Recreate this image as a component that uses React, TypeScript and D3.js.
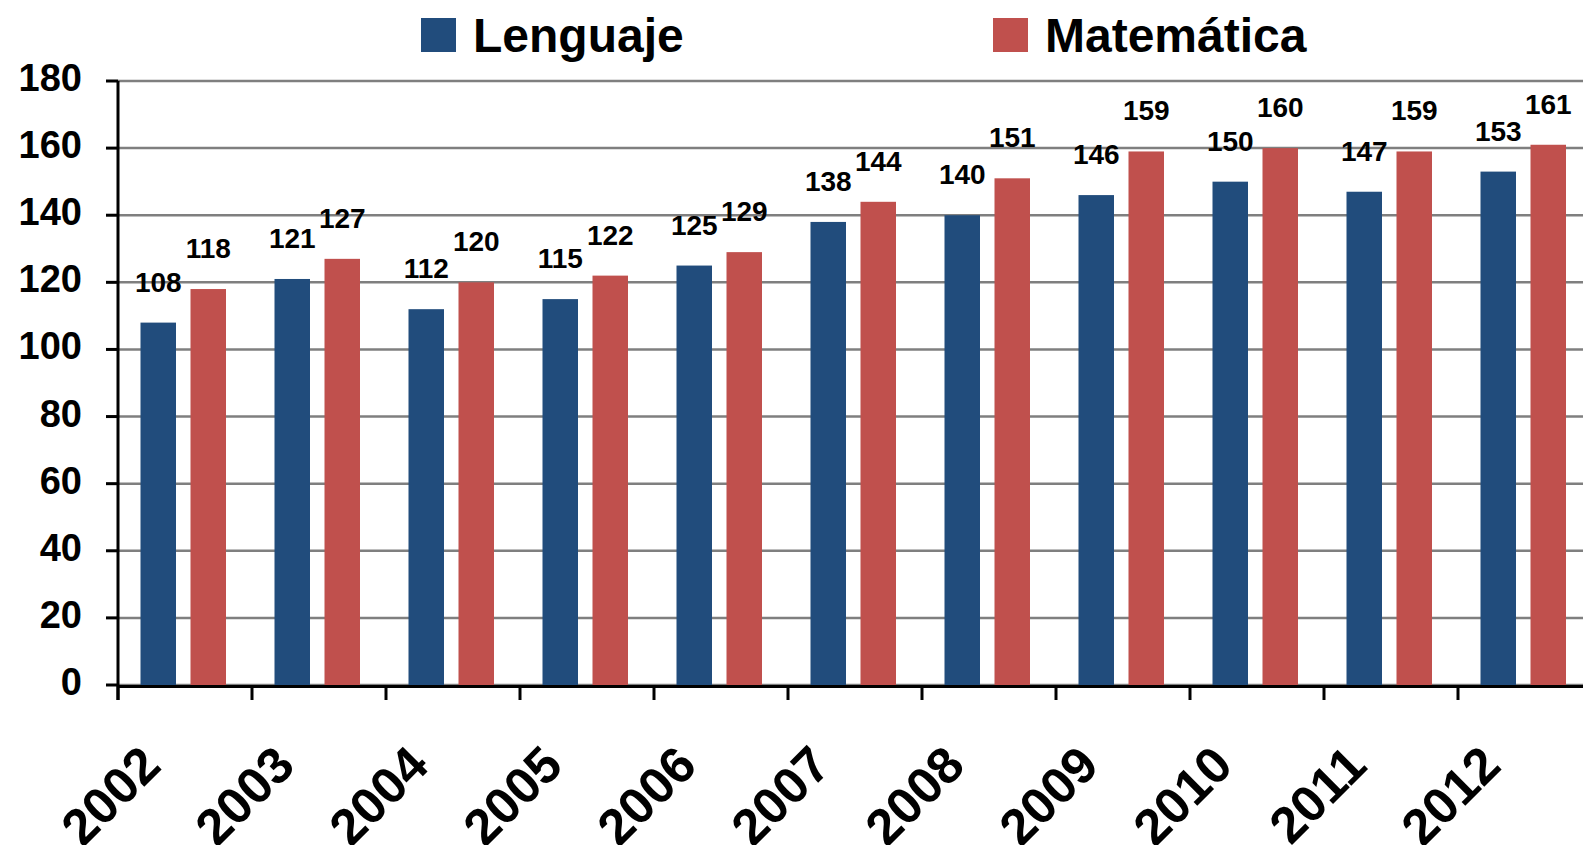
import React from "react";
import * as d3 from "d3";

const years = ["2002", "2003", "2004", "2005", "2006", "2007", "2008", "2009", "2010", "2011", "2012"];
const lenguaje = [108, 121, 112, 115, 125, 138, 140, 146, 150, 147, 153];
const matematica = [118, 127, 120, 122, 129, 144, 151, 159, 160, 159, 161];
const yTicks = [0, 20, 40, 60, 80, 100, 120, 140, 160, 180];
const seriesNames = ["Lenguaje", "Matemática"];
const colors = ["#214C7C", "#C0504D"];

const W = 1583;
const H = 845;
const FONT = "'Liberation Sans', Arial, sans-serif";

export default function App() {
  const left = 118;
  const band = 134;
  const x = d3
    .scaleBand<string>()
    .domain(years)
    .range([left, left + band * years.length])
    .paddingInner(0)
    .paddingOuter(0);
  const y = d3.scaleLinear().domain([0, 180]).range([685, 81]);
  const bw = x.bandwidth();
  const barW = 35.5;
  const offs = [22.5 / 134 * bw, 72.5 / 134 * bw];
  const series = [lenguaje, matematica];
  const xEnd = left + band * years.length;

  return (
    <svg
      width={W}
      height={H}
      style={{ position: "absolute", left: 0, top: 0, background: "#fff" }}
      fontFamily={FONT}
      fontWeight="bold"
    >
      {yTicks.map((t) => (
        <line key={"g" + t} x1={left} x2={xEnd} y1={y(t)} y2={y(t)} stroke="#7f7f7f" strokeWidth={2.5} />
      ))}
      {series.map((vals, si) =>
        vals.map((v, i) => (
          <rect
            key={si + "-" + i}
            x={(x(years[i]) as number) + offs[si]}
            y={y(v)}
            width={barW}
            height={y(0) - y(v)}
            fill={colors[si]}
          />
        ))
      )}
      {series.map((vals, si) =>
        vals.map((v, i) => (
          <text
            key={"l" + si + "-" + i}
            x={(x(years[i]) as number) + offs[si] + barW / 2}
            y={y(v) - 31}
            textAnchor="middle"
            fontSize={28}
            fill="#000"
          >
            {v}
          </text>
        ))
      )}
      <line x1={left} x2={left} y1={y(180)} y2={y(0) + 15} stroke="#000" strokeWidth={3} />
      {yTicks.map((t) => (
        <g key={"yt" + t}>
          <line x1={left - 12} x2={left} y1={y(t)} y2={y(t)} stroke="#000" strokeWidth={3} />
          <text x={82} y={y(t) + 10} textAnchor="end" fontSize={38} fill="#000">
            {t}
          </text>
        </g>
      ))}
      <line x1={left} x2={xEnd} y1={y(0) + 1.5} y2={y(0) + 1.5} stroke="#000" strokeWidth={3} />
      {years.map((yr) => (
        <line
          key={"xt" + yr}
          x1={x(yr) as number}
          x2={x(yr) as number}
          y1={y(0)}
          y2={y(0) + 15}
          stroke="#000"
          strokeWidth={3}
        />
      ))}
      {years.map((yr) => {
        const cx = (x(yr) as number) + bw / 2 - 22;
        const cy = 768;
        return (
          <text
            key={"xl" + yr}
            x={cx}
            y={cy}
            textAnchor="end"
            fontSize={51}
            fill="#000"
            transform={`rotate(-45 ${cx} ${cy})`}
          >
            {yr}
          </text>
        );
      })}
      {seriesNames.map((name, i) => {
        const lx = [421, 993][i];
        return (
          <g key={"leg" + name}>
            <rect x={lx} y={18} width={35} height={34} fill={colors[i]} />
            <text x={lx + 52} y={52} fontSize={48} fill="#000">
              {name}
            </text>
          </g>
        );
      })}
    </svg>
  );
}
